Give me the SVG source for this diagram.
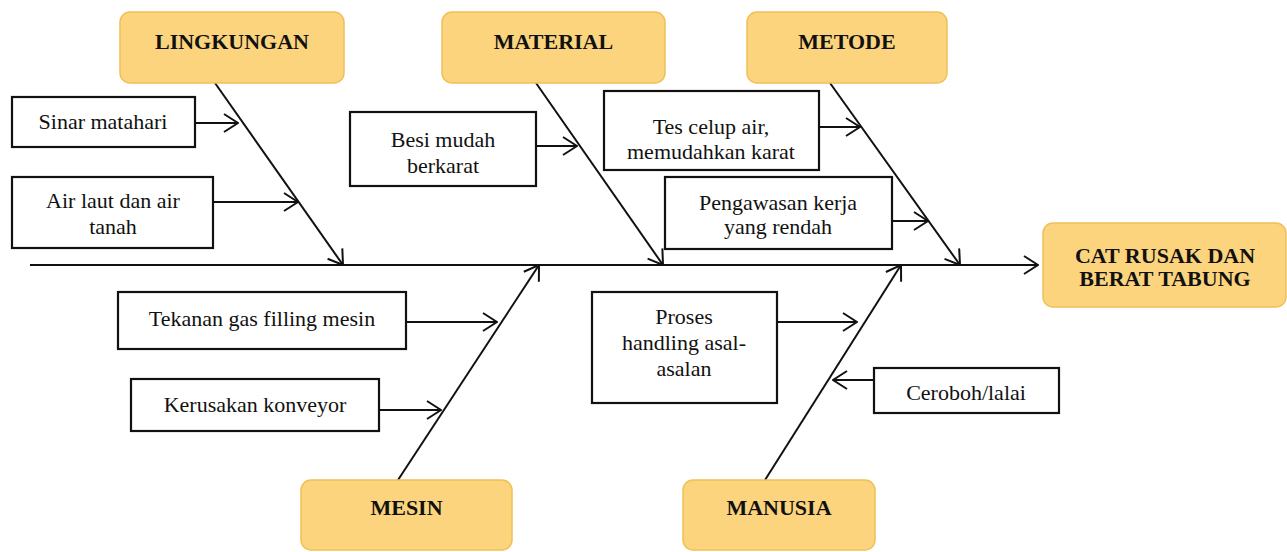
<svg xmlns="http://www.w3.org/2000/svg" width="1287" height="552" viewBox="0 0 1287 552">
<style>
.cat{fill:#FCD47E;stroke:#F0C058;stroke-width:1.5}
.box{fill:#fff;stroke:#111;stroke-width:2.2}
.ct{font-family:"Liberation Serif",serif;font-weight:bold;font-size:22px;fill:#111;text-anchor:middle}
.t{font-family:"Liberation Serif",serif;font-size:22px;fill:#111;text-anchor:middle}
.ln{stroke:#111;stroke-width:2;fill:none;marker-end:url(#ah)}
</style>
<defs>
<marker id="ah" markerUnits="userSpaceOnUse" viewBox="0 0 16 20" refX="15" refY="10" markerWidth="16" markerHeight="20" orient="auto">
<path d="M1,1 L15,10 L1,19" fill="none" stroke="#111" stroke-width="2"/>
</marker>
</defs>
<rect width="1287" height="552" fill="#fff"/>
<g id="connectors">
<line class="ln" x1="30" y1="265" x2="1038" y2="265"/>
<line class="ln" x1="215" y1="83" x2="343" y2="265"/>
<line class="ln" x1="536" y1="83" x2="663" y2="265"/>
<line class="ln" x1="830" y1="83" x2="960" y2="265"/>
<line class="ln" x1="398" y1="480" x2="539" y2="265"/>
<line class="ln" x1="765" y1="480" x2="901" y2="265"/>
<line class="ln" x1="195" y1="123" x2="238" y2="123"/>
<line class="ln" x1="213" y1="202" x2="298" y2="202"/>
<line class="ln" x1="536" y1="146" x2="577" y2="146"/>
<line class="ln" x1="819" y1="127" x2="860" y2="127"/>
<line class="ln" x1="892" y1="221" x2="928" y2="221"/>
<line class="ln" x1="406" y1="322" x2="497" y2="322"/>
<line class="ln" x1="379" y1="410" x2="441" y2="410"/>
<line class="ln" x1="777" y1="322" x2="857" y2="322"/>
<line class="ln" x1="874" y1="380" x2="833" y2="380"/>
</g>
<g id="lingkungan"><rect class="cat" x="120" y="12" width="224" height="71" rx="10"/><text class="ct" x="232" y="49">LINGKUNGAN</text></g>
<g id="material"><rect class="cat" x="442" y="12" width="223" height="71" rx="10"/><text class="ct" x="553.5" y="49">MATERIAL</text></g>
<g id="metode"><rect class="cat" x="747" y="12" width="200" height="71" rx="10"/><text class="ct" x="847" y="49">METODE</text></g>
<g id="mesin"><rect class="cat" x="301" y="480" width="211" height="70" rx="10"/><text class="ct" x="406.5" y="515">MESIN</text></g>
<g id="manusia"><rect class="cat" x="683" y="480" width="192" height="70" rx="10"/><text class="ct" x="779" y="515">MANUSIA</text></g>
<g id="cat-rusak"><rect class="cat" x="1043" y="223" width="243" height="84" rx="10"/><text class="ct" x="1165" y="263">CAT RUSAK DAN</text><text class="ct" x="1165" y="286">BERAT TABUNG</text></g>
<g id="sinar"><rect class="box" x="12" y="97" width="183" height="50"/><text class="t" x="103" y="129">Sinar matahari</text></g>
<g id="airlaut"><rect class="box" x="12" y="177" width="201" height="71"/><text class="t" x="113" y="208">Air laut dan air</text><text class="t" x="113" y="234">tanah</text></g>
<g id="besi"><rect class="box" x="350" y="112" width="186" height="74"/><text class="t" x="443" y="147">Besi mudah</text><text class="t" x="443" y="173">berkarat</text></g>
<g id="tes"><rect class="box" x="604" y="91" width="215" height="79"/><text class="t" x="711" y="134">Tes celup air,</text><text class="t" x="711" y="159">memudahkan karat</text></g>
<g id="pengawasan"><rect class="box" x="665" y="177" width="227" height="72"/><text class="t" x="778" y="210">Pengawasan kerja</text><text class="t" x="778" y="234">yang rendah</text></g>
<g id="tekanan"><rect class="box" x="118" y="292" width="288" height="57"/><text class="t" x="262" y="326">Tekanan gas filling mesin</text></g>
<g id="kerusakan"><rect class="box" x="131" y="379" width="248" height="52"/><text class="t" x="255" y="412">Kerusakan konveyor</text></g>
<g id="proses"><rect class="box" x="592" y="292" width="185" height="111"/><text class="t" x="684" y="324">Proses</text><text class="t" x="684" y="350">handling asal-</text><text class="t" x="684" y="376">asalan</text></g>
<g id="ceroboh"><rect class="box" x="874" y="368" width="185" height="45"/><text class="t" x="966" y="400">Ceroboh/lalai</text></g>
</svg>
